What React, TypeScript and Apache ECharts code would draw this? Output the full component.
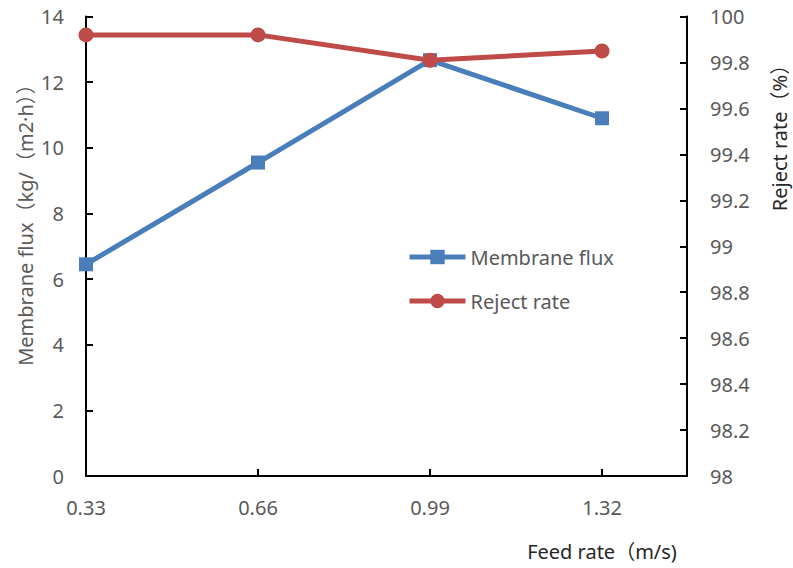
import React, { useEffect, useRef } from "react";
import * as echarts from "echarts";

const feedRates = [0.33, 0.66, 0.99, 1.32];
const membraneFlux = [6.45, 9.55, 12.67, 10.9];
const rejectRate = [99.92, 99.92, 99.81, 99.85];
const xTickLabels = ["0.33", "0.66", "0.99", "1.32"];

const FONT = "'Noto Sans', 'Noto Sans CJK SC', sans-serif";
const GREY = "#595959";
const DARK = "#262626";
const FS = 20;

export default function App() {
  const ref = useRef<HTMLDivElement>(null);
  useEffect(() => {
    if (!ref.current) return;
    const chart = echarts.init(ref.current, undefined, { renderer: "svg" });
    const axisLine = { show: true, lineStyle: { color: "#000", width: 2 } };
    const axisTick = { show: true, inside: true, length: 7, lineStyle: { color: "#000", width: 2 } };
    chart.setOption({
      animation: false,
      backgroundColor: "#fff",
      textStyle: { fontFamily: FONT },
      grid: { left: 86, right: 106, top: 16.5, bottom: 92, containLabel: false },
      legend: {
        orient: "vertical",
        left: 402,
        top: 242,
        itemWidth: 56,
        itemHeight: 18,
        itemGap: 24,
        lineStyle: { width: 5 },
        textStyle: { fontSize: FS, color: GREY, fontFamily: FONT },
        data: ["Membrane flux", "Reject rate"],
      },
      xAxis: {
        type: "value",
        min: 0.33,
        max: 1.483,
        interval: 0.33,
        axisLine,
        axisTick,
        splitLine: { show: false },
        axisLabel: {
          margin: 21,
          fontSize: FS,
          color: GREY,
          fontFamily: FONT,
          showMaxLabel: false,
          formatter: (v: number) => {
            const s = v.toFixed(2);
            return xTickLabels.indexOf(s) >= 0 ? s : "";
          },
        },
      },
      yAxis: [
        {
          type: "value",
          min: 0,
          max: 14,
          interval: 2,
          position: "left",
          axisLine,
          axisTick,
          splitLine: { show: false },
          axisLabel: { margin: 22, fontSize: FS, color: GREY, fontFamily: FONT },
        },
        {
          type: "value",
          min: 98,
          max: 100,
          interval: 0.2,
          position: "right",
          axisLine,
          axisTick,
          splitLine: { show: false },
          axisLabel: {
            margin: 23,
            fontSize: FS,
            color: GREY,
            fontFamily: FONT,
            formatter: (v: number) => String(Math.round(v * 10) / 10),
          },
        },
      ],
      series: [
        {
          name: "Membrane flux",
          type: "line",
          yAxisIndex: 0,
          data: feedRates.map((x, i) => [x, membraneFlux[i]]),
          symbol: "rect",
          symbolSize: 14,
          itemStyle: { color: "#4A7EBB" },
          lineStyle: { color: "#4A7EBB", width: 5 },
        },
        {
          name: "Reject rate",
          type: "line",
          yAxisIndex: 1,
          data: feedRates.map((x, i) => [x, rejectRate[i]]),
          symbol: "circle",
          symbolSize: 15,
          itemStyle: { color: "#BE4B48" },
          lineStyle: { color: "#BE4B48", width: 5 },
        },
      ],
      graphic: [
        {
          type: "text",
          x: 25,
          y: 220,
          rotation: Math.PI / 2,
          style: {
            text: "Membrane flux（kg/（m2·h））",
            fontSize: FS,
            fontFamily: FONT,
            fill: GREY,
            align: "center",
            verticalAlign: "middle",
          },
        },
        {
          type: "text",
          x: 779,
          y: 133,
          rotation: Math.PI / 2,
          style: {
            text: "Reject rate（%）",
            fontSize: FS,
            fontFamily: FONT,
            fill: DARK,
            align: "center",
            verticalAlign: "middle",
          },
        },
        {
          type: "text",
          x: 602,
          y: 551,
          style: {
            text: "Feed rate（m/s)",
            fontSize: FS,
            fontFamily: FONT,
            fill: DARK,
            align: "center",
            verticalAlign: "middle",
          },
        },
      ],
    });
    return () => chart.dispose();
  }, []);
  return <div ref={ref} style={{ width: 793, height: 568, position: "absolute", left: 0, top: 0 }} />;
}
